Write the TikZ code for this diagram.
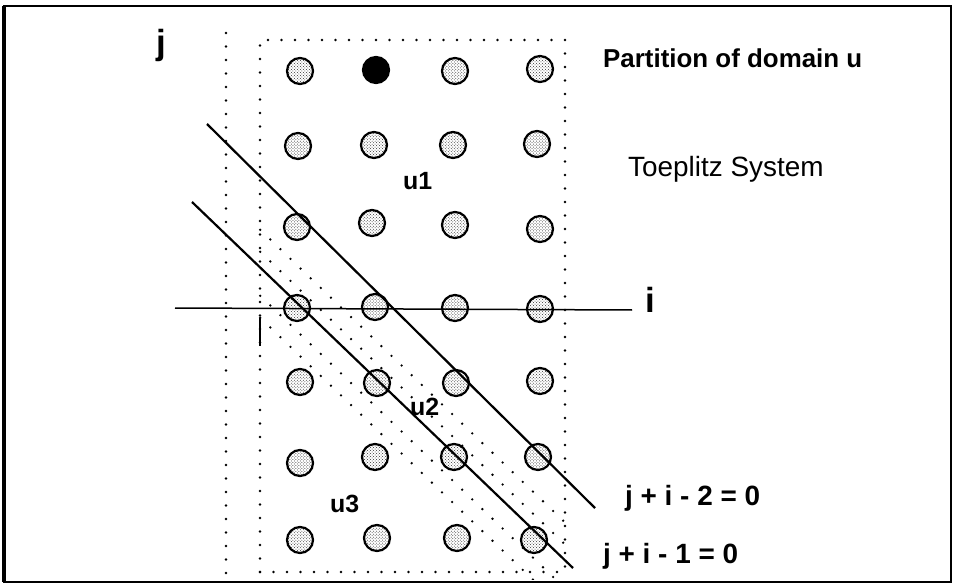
\documentclass[tikz,border=0pt]{standalone}
\usepackage{fontspec}
\setmainfont{Liberation Sans}
\usetikzlibrary{patterns}
\begin{document}
\begin{tikzpicture}[x=1bp,y=-1bp,
  gridpt/.style={circle, draw, line width=2.2bp, minimum size=26bp, inner sep=0pt,
                 pattern=crosshatch dots, pattern color=black!80},
  blackpt/.style={circle, draw, line width=2.2bp, minimum size=26bp, inner sep=0pt, fill=black},
  dotline/.style={line width=2.8bp, line cap=round, dash pattern=on 0bp off 13.5bp},
  hatchline/.style={line width=2.6bp, line cap=round, dash pattern=on 0bp off 14bp},
  solidline/.style={line width=2.2bp},
  axisline/.style={line width=1.5bp},
  lbl/.style={inner sep=0pt, anchor=base west},
  axlbl/.style={inner sep=0pt, anchor=base, font=\fontsize{35}{40}\selectfont\bfseries},
  ulbl/.style={lbl, font=\fontsize{25}{30}\selectfont\bfseries},
  eqlbl/.style={lbl, font=\fontsize{28}{32}\selectfont\bfseries}
]
\useasboundingbox (0,0) rectangle (960,585);
% frame
\draw[line width=2.5bp] (4,6) rectangle (951,582);
\draw[line width=4bp] (4,6) -- (4,582);

% dotted outlines
\draw[dotline] (226,33) -- (226,575);
\draw[dotline] (260,572) -- (260,40) -- (565,40) -- (565,578);
\draw[dotline] (260,572) -- (565,572);
\draw[line width=1.2bp] (260,318) -- (260,346);

% hatched band (region u2)
\begin{scope}
  \clip (257,0) rectangle (567,579);
  \foreach \c in {-20,2,46,68}{
    \draw[hatchline] (240,{230.4+\c}) -- (600,{576+\c});
  }
\end{scope}

% grid points
\node[gridpt]  (p11) at (300,71) {};
\node[blackpt] (p12) at (376,70) {};
\node[gridpt]  (p13) at (455,71) {};
\node[gridpt]  (p14) at (540,69) {};
\node[gridpt]  (p21) at (298,146) {};
\node[gridpt]  (p22) at (374,145) {};
\node[gridpt]  (p23) at (453,145) {};
\node[gridpt]  (p24) at (537,144) {};
\node[gridpt]  (p31) at (297,227) {};
\node[gridpt]  (p32) at (372,223) {};
\node[gridpt]  (p33) at (455,225) {};
\node[gridpt]  (p34) at (540,229) {};
\node[gridpt]  (p41) at (297,308) {};
\node[gridpt]  (p42) at (375,307) {};
\node[gridpt]  (p43) at (455,308) {};
\node[gridpt]  (p44) at (540,309) {};
\node[gridpt]  (p51) at (300,382) {};
\node[gridpt]  (p52) at (377,383) {};
\node[gridpt]  (p53) at (456,383) {};
\node[gridpt]  (p54) at (540,381) {};
\node[gridpt]  (p61) at (300,463) {};
\node[gridpt]  (p62) at (375,457) {};
\node[gridpt]  (p63) at (454,457) {};
\node[gridpt]  (p64) at (538,457) {};
\node[gridpt]  (p71) at (300,540) {};
\node[gridpt]  (p72) at (377,538) {};
\node[gridpt]  (p73) at (457,538) {};
\node[gridpt]  (p74) at (534,540) {};

% axis and diagonal lines
\coordinate (axL) at (175,308);
\coordinate (axR) at (632,310);
\draw[axisline] (axL) -- (axR);
\coordinate (aS) at (207,124);
\coordinate (aE) at (595,508);
\draw[solidline] (aS) -- (aE);
\coordinate (bS) at (192,202);
\coordinate (bE) at (573,568);
\draw[solidline] (bS) -- (bE);

% labels
\node[axlbl] (jlab) at (161,55) {j};
\node[axlbl] (ilab) at (650,312) {i};
\node[lbl, font=\fontsize{26}{30}\selectfont\bfseries] (title) at (603,68) {Partition of domain u};
\node[lbl, font=\fontsize{28}{32}\selectfont] (sys) at (628,177) {Toeplitz System};
\node[ulbl] (u1) at (403,190) {u1};
\node[ulbl] (u2) at (410,415) {u2};
\node[ulbl] (u3) at (330,512) {u3};
\node[eqlbl] (eqa) at (625,505) {j + i - 2 = 0};
\node[eqlbl] (eqb) at (603,563) {j + i - 1 = 0};
\end{tikzpicture}
\end{document}
